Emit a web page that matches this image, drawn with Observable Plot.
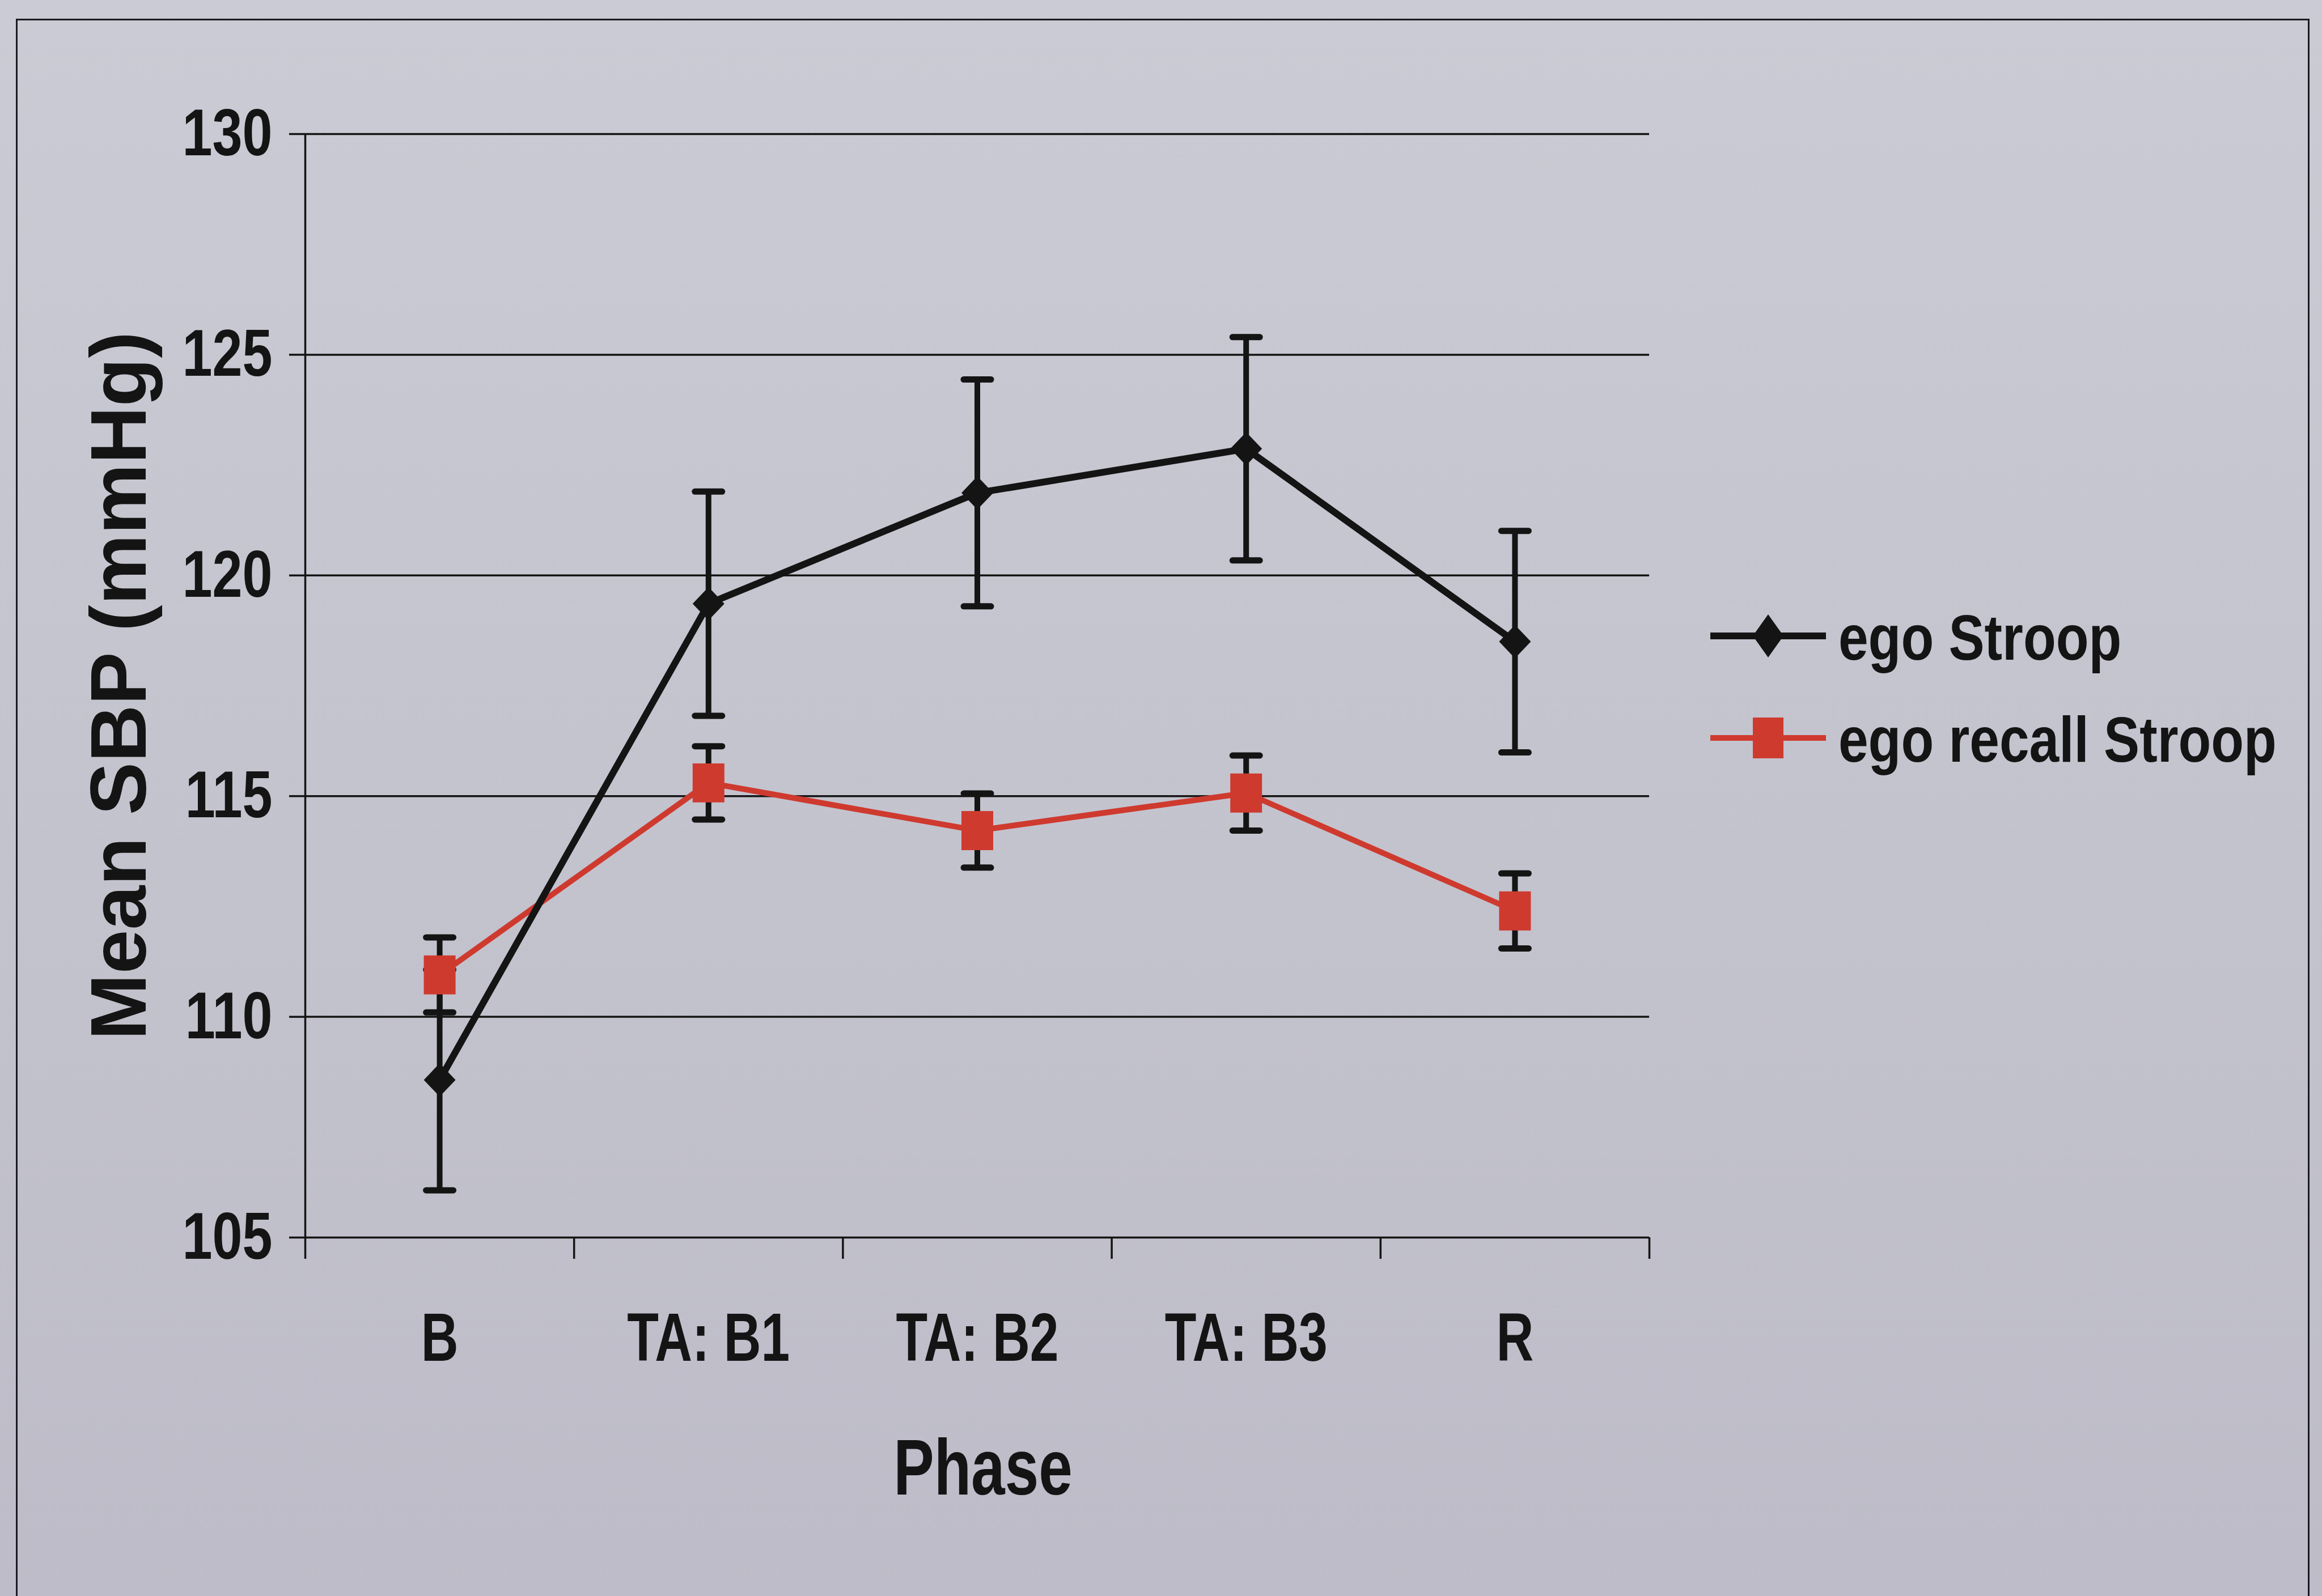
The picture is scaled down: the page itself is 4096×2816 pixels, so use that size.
<!DOCTYPE html>
<html>
<head>
<meta charset="utf-8">
<script src="https://cdn.jsdelivr.net/npm/d3@7"></script>
<script src="https://cdn.jsdelivr.net/npm/@observablehq/plot@0.6"></script>
<style>
  html, body { margin: 0; padding: 0; overflow: hidden; }
  #page {
    position: relative; width: 4096px; height: 2816px;
    background: linear-gradient(#cacbd4, #bdbcc8);
  }
  #page svg.chart { position: absolute; left: 0; top: 0; }
  #legend { position: absolute; left: 0; top: 0; pointer-events: none; }
  .border { position: absolute; background: #1a1a22; }
</style>
</head>
<body>
<div id="page">
  <div class="border" style="left:28px; top:33px; width:4046px; height:3px;"></div>
  <div class="border" style="left:28px; top:33px; width:3px; height:2800px;"></div>
  <div class="border" style="left:4071px; top:33px; width:3px; height:2800px;"></div>
</div>
<script>
// ---- data ----
const phases = ["B", "TA: B1", "TA: B2", "TA: B3", "R"];
const egoStroopMean = [108.57, 119.36, 121.87, 122.87, 118.5];
const egoStroopErr = [2.5, 2.54, 2.57, 2.53, 2.51];
const egoRecallMean = [110.95, 115.3, 114.22, 115.07, 112.4];
const egoRecallErr = [0.85, 0.83, 0.84, 0.85, 0.85];
const yTicks = [105, 110, 115, 120, 125, 130];
const seriesNames = ["ego Stroop", "ego recall Stroop"];
const yTitle = "Mean SBP (mmHg)";
const xTitle = "Phase";

const BLACK = "#141414";
const RED = "#cf3a2f";
const NARROW = '"Liberation Sans Narrow", "Arial Narrow", "Liberation Sans", Arial, sans-serif';
const REGULAR = '"Liberation Sans", Arial, sans-serif';

const rows = (means, errs, name) => phases.map((p, i) => ({
  pos: i + 0.5, phase: p, mean: means[i], lo: means[i] - errs[i], hi: means[i] + errs[i], series: name
}));
const ego = rows(egoStroopMean, egoStroopErr, seriesNames[0]);
const recall = rows(egoRecallMean, egoRecallErr, seriesNames[1]);

// custom marker shapes (Excel-like, slightly tall)
const tallSquare = { draw(ctx, size) { const s = Math.sqrt(size / Math.PI); ctx.rect(-s, -s * 1.23, 2 * s, 2.46 * s); } };
const diamond = { draw(ctx, size) { const s = Math.sqrt(size / Math.PI); ctx.moveTo(0, -s * 1.05); ctx.lineTo(s, 0); ctx.lineTo(0, s * 1.05); ctx.lineTo(-s, 0); ctx.closePath(); } };
const capLine = { draw(ctx, size) { const s = Math.sqrt(size / Math.PI); ctx.moveTo(-s, 0); ctx.lineTo(s, 0); } };

const errMarks = (data) => [
  Plot.ruleX(data, { x: "pos", y1: "lo", y2: "hi", stroke: BLACK, strokeWidth: 10 }),
  Plot.dot(data, { x: "pos", y: "hi", symbol: capLine, r: 24, stroke: BLACK, fill: "none", strokeWidth: 11, strokeLinecap: "round" }),
  Plot.dot(data, { x: "pos", y: "lo", symbol: capLine, r: 24, stroke: BLACK, fill: "none", strokeWidth: 11, strokeLinecap: "round" })
];

const chart = Plot.plot({
  width: 4096,
  height: 2816,
  marginLeft: 538,
  marginRight: 1187,
  marginTop: 236,
  marginBottom: 633,
  style: { background: "transparent", color: BLACK, overflow: "visible" },
  x: { domain: [0, phases.length], axis: null },
  y: { domain: [yTicks[0], yTicks[yTicks.length - 1]], axis: null },
  marks: [
    // gridlines & axes
    Plot.ruleY(yTicks, { stroke: BLACK, strokeWidth: 3.5 }),
    Plot.ruleX([0], { stroke: BLACK, strokeWidth: 3.5 }),
    Plot.axisY({ ticks: yTicks, label: null, tickSize: 28, tickPadding: 30, strokeWidth: 3.5, stroke: BLACK,
      fontSize: 117, fontWeight: "bold", fontFamily: NARROW }),
    Plot.axisX({ ticks: d3.range(0, phases.length + 1), label: null, tickSize: 38, strokeWidth: 3.5, stroke: BLACK, tickFormat: () => "" }),
    Plot.axisX({ ticks: phases.map((p, i) => i + 0.5), label: null, tickSize: 0, tickPadding: 132,
      tickFormat: (d) => phases[Math.floor(d)], fontSize: 120, fontWeight: "bold", fontFamily: NARROW }),
    Plot.text([xTitle], { frameAnchor: "bottom", lineAnchor: "top", dy: 354, dx: 10, fontSize: 140,
      fontWeight: "bold", fontFamily: NARROW, fill: BLACK }),
    Plot.text([yTitle], { frameAnchor: "left", textAnchor: "middle", rotate: -90, dx: -326, fontSize: 140,
      fontWeight: "bold", fontFamily: REGULAR, fill: BLACK }),
    // series lines
    Plot.line(recall, { x: "pos", y: "mean", stroke: RED, strokeWidth: 10 }),
    Plot.line(ego, { x: "pos", y: "mean", stroke: BLACK, strokeWidth: 12 }),
    // error bars
    ...errMarks(ego),
    ...errMarks(recall),
    // markers
    Plot.dot(ego, { x: "pos", y: "mean", symbol: diamond, r: 28, fill: BLACK }),
    Plot.dot(recall, { x: "pos", y: "mean", symbol: tallSquare, r: 28, fill: RED })
  ]
});
chart.classList.add("chart");
document.getElementById("page").appendChild(chart);

// condense the narrow-font texts horizontally (the reference uses a narrow face),
// pivoting around each text's own anchor so positions are unchanged
const squeeze = new Map();
yTicks.forEach((t) => squeeze.set(String(t), 0.815));
phases.forEach((p) => squeeze.set(p, 0.76));
squeeze.set(xTitle, 0.765);
chart.querySelectorAll("text").forEach((t) => {
  const k = squeeze.get(t.textContent.trim());
  if (!k) return;
  const xa = t.getAttribute("x");
  const x = xa !== null && isFinite(+xa) ? +xa : 0;
  const T = t.getAttribute("transform") || "";
  t.setAttribute("transform", `${T} translate(${x},0) scale(${k},1) translate(${-x},0)`);
});

// legend (to the right of the plot)
const NS = "http://www.w3.org/2000/svg";
const leg = document.createElementNS(NS, "svg");
leg.setAttribute("id", "legend");
leg.setAttribute("width", 4096);
leg.setAttribute("height", 2816);
const legendItems = [
  { name: seriesNames[0], color: BLACK, width: 12, baseline: 1164, shape: "diamond" },
  { name: seriesNames[1], color: RED, width: 10, baseline: 1344, shape: "square" }
];
legendItems.forEach((it) => {
  const ly = it.baseline - 42;
  const line = document.createElementNS(NS, "line");
  line.setAttribute("x1", 3017); line.setAttribute("x2", 3221);
  line.setAttribute("y1", ly); line.setAttribute("y2", ly);
  line.setAttribute("stroke", it.color); line.setAttribute("stroke-width", it.width);
  leg.appendChild(line);
  const sym = document.createElementNS(NS, "path");
  const cx = 3119;
  if (it.shape === "diamond") sym.setAttribute("d", `M${cx},${ly - 38}L${cx + 27},${ly}L${cx},${ly + 38}L${cx - 27},${ly}Z`);
  else sym.setAttribute("d", `M${cx - 27},${ly - 36}h54v72h-54Z`);
  sym.setAttribute("fill", it.color);
  leg.appendChild(sym);
  const t = document.createElementNS(NS, "text");
  t.setAttribute("transform", `translate(3243,${it.baseline}) scale(0.83,1)`);
  t.setAttribute("font-family", NARROW); t.setAttribute("font-weight", "bold");
  t.setAttribute("font-size", 114);
  t.setAttribute("fill", BLACK);
  t.textContent = it.name;
  leg.appendChild(t);
});
document.getElementById("page").appendChild(leg);
</script>
</body>
</html>
